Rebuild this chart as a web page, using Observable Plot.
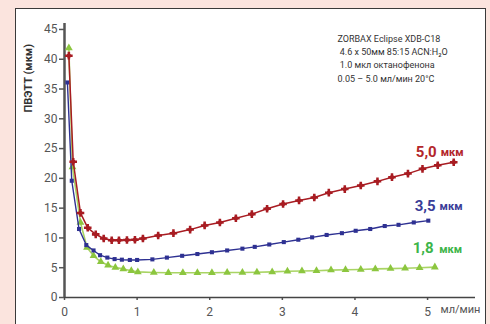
<!DOCTYPE html>
<html><head><meta charset="utf-8">
<script src="https://cdn.jsdelivr.net/npm/d3@7"></script>
<script src="https://cdn.jsdelivr.net/npm/@observablehq/plot@0.6"></script>
<style>
html,body{margin:0;padding:0;background:#fbe4de;width:490px;height:324px;overflow:hidden;}
#box{position:absolute;left:15px;top:8px;width:471px;height:330px;background:#fff;border:1.5px solid #3a3a3a;box-sizing:border-box;}
#chart{position:absolute;left:0;top:0;}
</style></head><body><div id="box"></div><div id="chart"></div>
<script>
// ---- data ----
const xTicks = [0, 1, 2, 3, 4, 5];
const yTicks = [0, 5, 10, 15, 20, 25, 30, 35, 40, 45];
const yLabel = "ПВЭТТ (мкм)";
const xLabel = "мл/мин";
const unit = "мкм";
const seriesNames = ["5,0", "3,5", "1,8"];
const notes = [
  "ZORBAX Eclipse XDB-C18",
  " 4.6 x 50мм 85:15 ACN:H₂O",
  " 1.0 мкл октанофенона",
  "0.05 – 5.0 мл/мин 20°C"
];

const redX = [0.06,0.12,0.22,0.32,0.43,0.54,0.65,0.75,0.86,0.97,1.08,1.29,1.50,1.73,1.93,2.14,2.36,2.58,2.79,3.01,3.23,3.44,3.64,3.86,4.08,4.31,4.51,4.73,4.93,5.14,5.36];
const redY = [40.6,22.8,14.2,11.7,10.6,9.9,9.6,9.6,9.65,9.7,9.9,10.4,10.8,11.4,12.1,12.6,13.3,14.0,14.9,15.7,16.3,16.8,17.6,18.2,18.8,19.5,20.2,20.8,21.6,22.2,22.7];

const blueX = [0.04,0.10,0.20,0.30,0.40,0.49,0.59,0.69,0.79,0.90,1.00,1.21,1.41,1.62,1.83,2.03,2.24,2.45,2.62,2.82,3.02,3.22,3.41,3.61,3.82,4.01,4.21,4.41,4.60,4.81,5.01];
const blueY = [36.1,19.6,11.5,8.8,7.9,7.1,6.7,6.45,6.35,6.3,6.3,6.4,6.7,7.0,7.3,7.6,7.9,8.2,8.5,8.9,9.3,9.7,10.1,10.5,10.8,11.2,11.5,12.0,12.2,12.6,12.9];

const greenX = [0.06,0.11,0.22,0.31,0.40,0.50,0.60,0.70,0.81,0.92,1.01,1.23,1.43,1.63,1.83,2.03,2.24,2.45,2.65,2.86,3.07,3.27,3.47,3.67,3.87,4.08,4.28,4.49,4.69,4.89,5.10];
const greenY = [41.9,21.9,12.6,8.4,7.0,6.0,5.4,5.05,4.8,4.5,4.3,4.2,4.15,4.15,4.15,4.15,4.2,4.2,4.25,4.3,4.4,4.45,4.5,4.6,4.65,4.7,4.8,4.85,4.9,5.0,5.1];

// ---- build ----
const rows = (xs, ys) => xs.map((x, i) => ({x, y: ys[i]}));
const red = rows(redX, redY), blue = rows(blueX, blueY), green = rows(greenX, greenY);
const font = "Roboto, 'Open Sans', sans-serif";

const C = {
  red: "#a81c22", redText: "#b3262b",
  blue: "#2e3192", blueText: "#3a3d98",
  green: "#8cc63f", greenLine: "#a9d464", greenText: "#3db54a"
};

function seriesLabel(data, name, color, ndx, ndy, udx, udy) {
  const last = [data[data.length - 1]];
  return [
    Plot.text(last, {x: "x", y: "y", text: () => name, textAnchor: "end", dx: ndx, dy: ndy,
      fontSize: 15, fontWeight: "bold", fill: color}),
    Plot.text(last, {x: "x", y: "y", text: () => unit, textAnchor: "start", dx: udx, dy: udy,
      fontSize: 11, fontWeight: "bold", fill: color})
  ];
}

const chart = Plot.plot({
  width: 490, height: 324,
  marginLeft: 64, marginRight: 15, marginTop: 23, marginBottom: 27,
  style: {background: "transparent", fontFamily: font},
  x: {domain: [0, 5.66]},
  y: {domain: [0, 46]},
  marks: [
    Plot.axisY({ticks: yTicks, tickFormat: d => String(d), tickSize: 5, tickPadding: 2, fontSize: 12, color: "#555", strokeWidth: 1.5, label: null}),
    Plot.axisX({ticks: xTicks, tickFormat: d => String(d), tickSize: 3, tickPadding: 7, fontSize: 12, color: "#555", strokeWidth: 1.5, label: null}),
    Plot.ruleY([0], {stroke: "#444", strokeWidth: 1.5}),
    Plot.ruleX([0], {stroke: "#555", strokeWidth: 2.5}),
    // green
    Plot.line(green, {x: "x", y: "y", stroke: C.greenLine, strokeWidth: 1.6}),
    Plot.dot(green, {x: "x", y: "y", symbol: "triangle", r: 2.9, fill: C.green, stroke: "none"}),
    // blue
    Plot.line(blue, {x: "x", y: "y", stroke: C.blue, strokeWidth: 1.4}),
    Plot.dot(blue, {x: "x", y: "y", symbol: "square", r: 2.3, fill: C.blue, stroke: "none"}),
    // red
    Plot.line(red, {x: "x", y: "y", stroke: C.red, strokeWidth: 1.5}),
    Plot.dot(red, {x: "x", y: "y", symbol: "cross", r: 3.2, fill: C.red, stroke: "none"}),
    Plot.dot(red, {x: "x", y: "y", symbol: "circle", r: 2.2, fill: C.red, stroke: "none"}),
    // labels
    ...seriesLabel(red, seriesNames[0], C.redText, -17, -10, -13, -9.6),
    ...seriesLabel(blue, seriesNames[1], C.blueText, 7.3, -14.7, 11.3, -13.7),
    ...seriesLabel(green, seriesNames[2], C.greenText, -1.3, -18.8, 4.3, -17.8),
    // axis titles
    Plot.text([yLabel], {text: d => d, frameAnchor: "left", rotate: -90, dx: -36, dy: -48,
      fontSize: 11, fontWeight: "bold", fill: "#333"}),
    Plot.text([xLabel], {text: d => d, frameAnchor: "bottom-right", textAnchor: "start", dx: -35, dy: 15.5,
      fontSize: 11, fill: "#555"}),
    // notes
    Plot.text([notes.join("\n")], {text: d => d, frameAnchor: "top-left", textAnchor: "start", lineAnchor: "top",
      dx: 273, dy: 8.6, fontSize: 9, lineHeight: 1.48, fill: "#333"})
  ]
});
document.getElementById("chart").appendChild(chart);
</script></body></html>
